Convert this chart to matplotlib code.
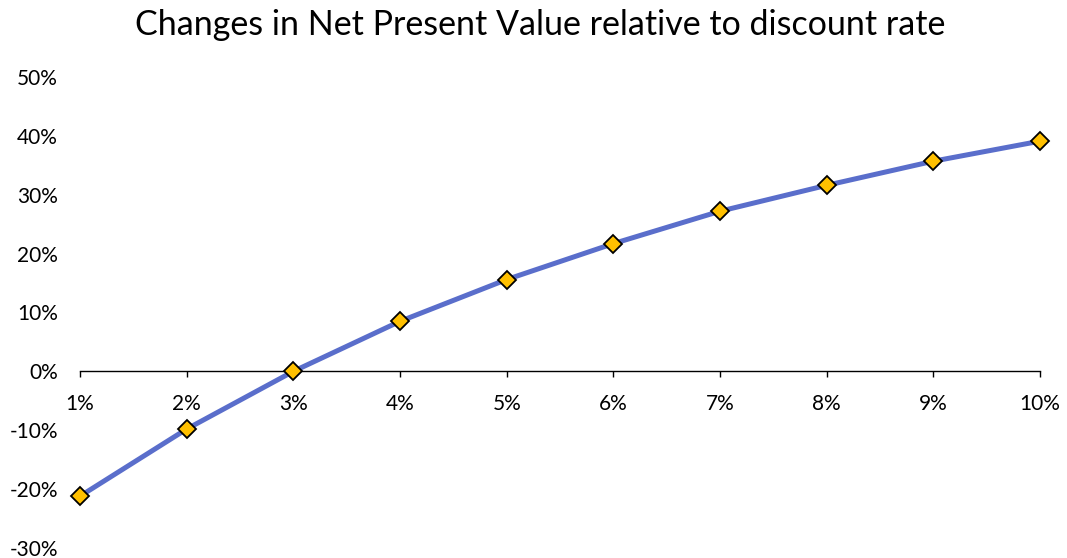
import matplotlib
matplotlib.use("Agg")
import matplotlib.pyplot as plt
from matplotlib.ticker import FuncFormatter

rates = [1, 2, 3, 4, 5, 6, 7, 8, 9, 10]
rate_labels = ["1%", "2%", "3%", "4%", "5%", "6%", "7%", "8%", "9%", "10%"]
npv_change = [-21.2, -9.8, 0.0, 8.5, 15.6, 21.7, 27.2, 31.6, 35.7, 39.1]
title = "Changes in Net Present Value relative to discount rate"

plt.rcParams['font.family'] = ['Lato', 'DejaVu Sans']

fig = plt.figure(figsize=(10.67, 5.58), dpi=100)
ax = fig.add_axes([0.075, 0.018, 0.8997, 0.844])

ax.plot(rates, npv_change, color='#5A6ECB', lw=3.6, marker='D', markersize=9,
        markerfacecolor='#FFC000', markeredgecolor='black', markeredgewidth=1.3,
        solid_capstyle='round', zorder=3, clip_on=False)

ax.set_xlim(1, 10)
ax.set_ylim(-30, 50)
ax.set_yticks(range(-30, 51, 10))
ax.yaxis.set_major_formatter(FuncFormatter(lambda v, p: f"{int(round(v))}%"))
ax.set_xticks(rates)
ax.set_xticklabels(rate_labels)

for s in ['top', 'right', 'left']:
    ax.spines[s].set_visible(False)
ax.spines['bottom'].set_position(('data', 0))
ax.spines['bottom'].set_color('black')
ax.spines['bottom'].set_linewidth(1.0)

ax.tick_params(axis='y', length=0, pad=16, labelsize=15, labelcolor='black')
ax.tick_params(axis='x', direction='out', length=4.5, width=1.0, pad=12,
               labelsize=15, labelcolor='black')

fig.text(0.506, 0.955, title, ha='center', va='center', fontsize=24.5, color='black')

fig.savefig("out.png", dpi=100)
